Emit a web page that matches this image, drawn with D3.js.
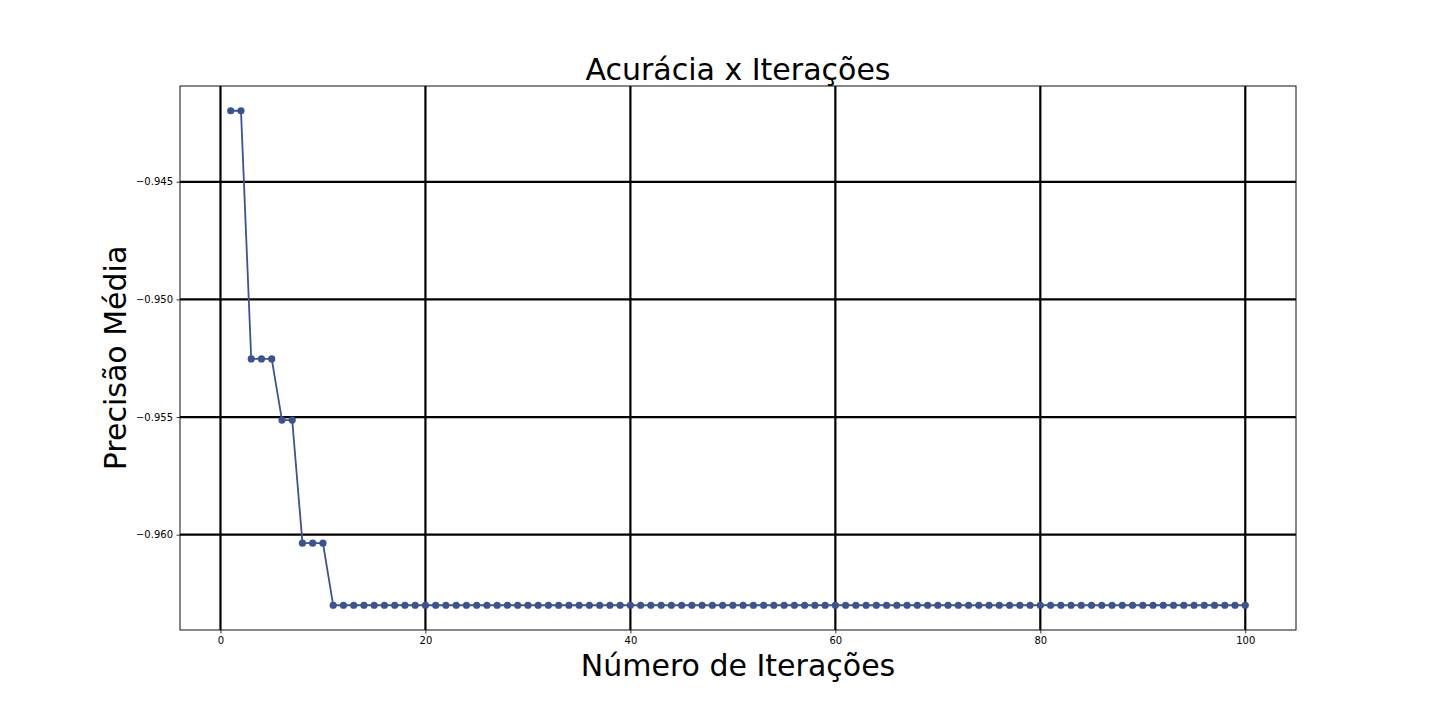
<!DOCTYPE html>
<html><head><meta charset="utf-8">
<script src="https://cdn.jsdelivr.net/npm/d3@7"></script>
<style>body{margin:0;background:#fff}svg{display:block}text{font-family:"DejaVu Sans",sans-serif}</style>
</head><body><svg id="c" width="1440" height="720"></svg>
<script>
const iterations = d3.range(1, 101);
const values = [
  -0.94198, -0.94198,
  -0.95253, -0.95253, -0.95253,
  -0.95513, -0.95513,
  -0.96036, -0.96036, -0.96036
].concat(Array(90).fill(-0.963));
const xTicks = [0, 20, 40, 60, 80, 100];
const yTicks = [-0.945, -0.950, -0.955, -0.960];

const svg = d3.select('#c');
const L = 180, R = 1296, T = 86, B = 630;
const dx = 99 * 0.05, ymin = d3.min(values), ymax = d3.max(values), dy = (ymax - ymin) * 0.05;
const x = d3.scaleLinear().domain([1 - dx, 100 + dx]).range([L, R]);
const y = d3.scaleLinear().domain([ymin - dy, ymax + dy]).range([B, T]);

// grid
const g = svg.append('g');
g.selectAll('.gx').data(xTicks).join('line')
  .attr('x1', d => x(d)).attr('x2', d => x(d)).attr('y1', T).attr('y2', B)
  .attr('stroke', '#000').attr('stroke-width', 2.2);
g.selectAll('.gy').data(yTicks).join('line')
  .attr('y1', d => y(d)).attr('y2', d => y(d)).attr('x1', L).attr('x2', R)
  .attr('stroke', '#000').attr('stroke-width', 2.2);

// axes
const fmt = d => d3.format('.3f')(d).replace('-', '\u2212');
const xa = svg.append('g').attr('transform', `translate(0,${B})`)
  .call(d3.axisBottom(x).tickValues(xTicks).tickSize(3.5).tickPadding(3.5).tickFormat(d3.format('d')));
const ya = svg.append('g').attr('transform', `translate(${L},0)`)
  .call(d3.axisLeft(y).tickValues(yTicks).tickSize(3.5).tickPadding(3.5).tickFormat(fmt));
[xa, ya].forEach(a => {
  a.select('.domain').remove();
  a.selectAll('text').attr('font-size', 10).attr('fill', '#000').attr('font-family', 'DejaVu Sans');
  a.selectAll('line').attr('stroke', '#000').attr('stroke-width', 0.8);
});
svg.append('rect').attr('x', L).attr('y', T).attr('width', R - L).attr('height', B - T)
  .attr('fill', 'none').attr('stroke', '#111').attr('stroke-width', 1);

// data
const col = '#3b5391';
const line = d3.line().x((d, i) => x(iterations[i])).y(d => y(d));
svg.append('path').datum(values).attr('d', line).attr('fill', 'none')
  .attr('stroke', col).attr('stroke-width', 1.8);
svg.append('g').selectAll('circle').data(values).join('circle')
  .attr('cx', (d, i) => x(iterations[i])).attr('cy', d => y(d)).attr('r', 3.6).attr('fill', col);

// labels
svg.append('text').attr('x', (L + R) / 2).attr('y', 80).attr('text-anchor', 'middle')
  .attr('font-size', 30).text('Acurácia x Iterações');
svg.append('text').attr('x', (L + R) / 2).attr('y', 676).attr('text-anchor', 'middle')
  .attr('font-size', 30).text('Número de Iterações');
svg.append('text').attr('transform', `translate(126,${(T + B) / 2}) rotate(-90)`).attr('text-anchor', 'middle')
  .attr('font-size', 30).text('Precisão Média');
</script></body></html>
